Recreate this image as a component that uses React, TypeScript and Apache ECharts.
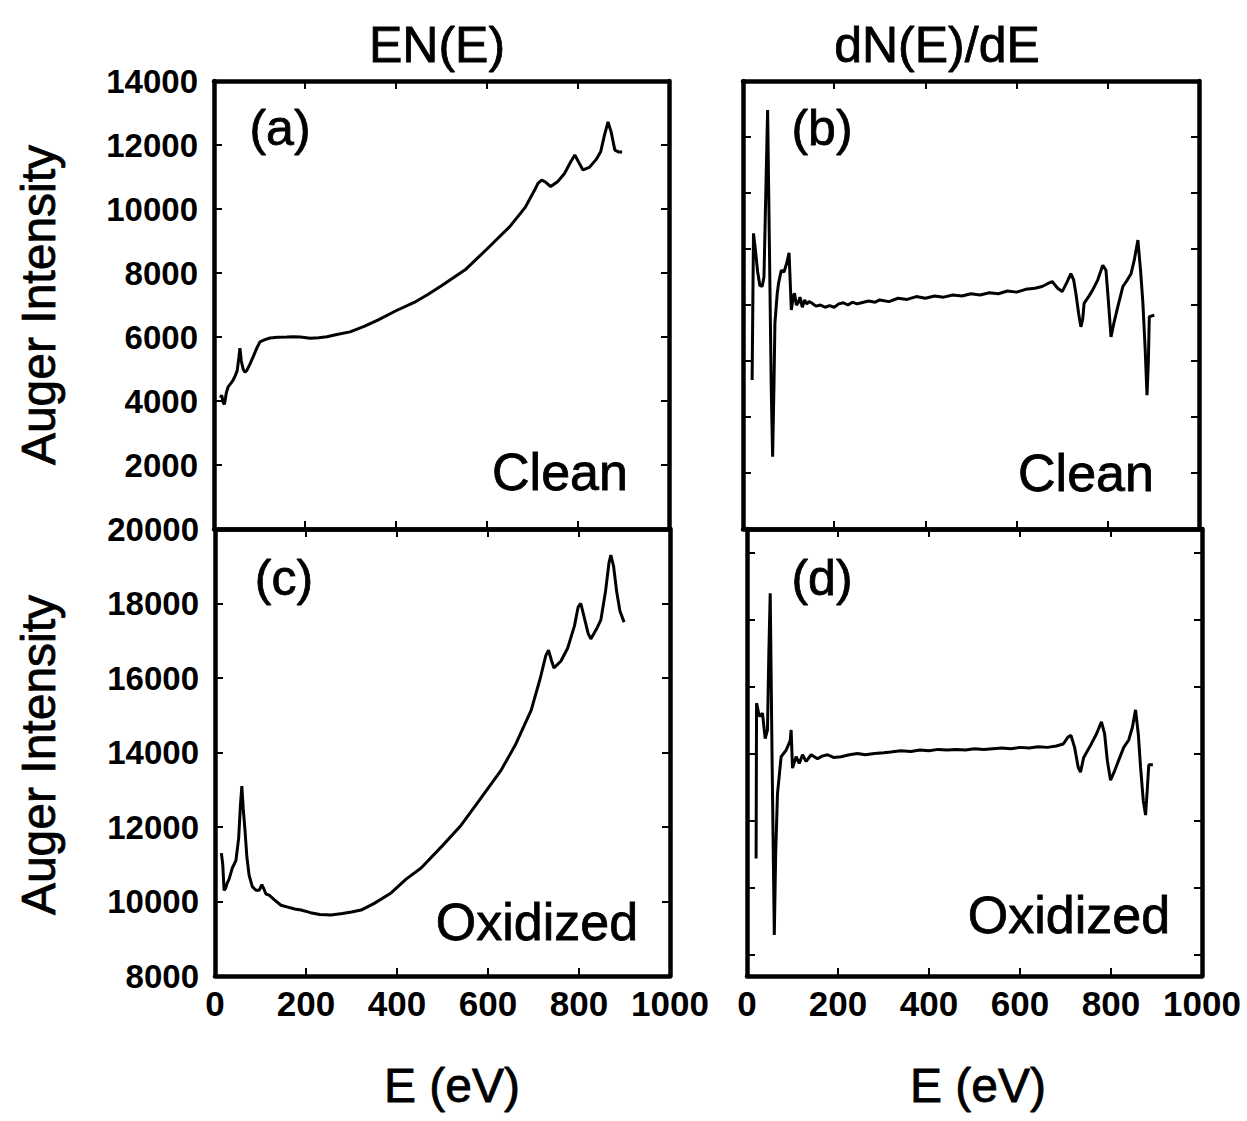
import React, { useEffect, useRef } from "react";
import * as echarts from "echarts";

// ---- Data (E in eV, intensity) ----
const xTicks = [0, 200, 400, 600, 800, 1000];

const cleanEN: [number, number][] = [
  [14, 4100], [17, 4180], [20, 3950], [23, 3900], [27, 4250], [31, 4440], [37, 4550], [42, 4650],
  [47, 4800], [51, 4950], [55, 5400], [57, 5650], [60, 5250], [64, 5000], [68, 4900], [72, 4950],
  [79, 5150], [86, 5380], [94, 5650], [101, 5850], [112, 5920], [123, 5970], [140, 5990], [160, 6000],
  [174, 6010], [190, 6000], [211, 5960], [230, 5980], [248, 6010], [270, 6080], [299, 6160], [330, 6330],
  [360, 6530], [400, 6820], [440, 7080], [470, 7330], [500, 7600], [552, 8100], [600, 8750], [650, 9450],
  [684, 10050], [705, 10600], [712, 10800], [720, 10900], [728, 10850], [740, 10700], [755, 10850], [770, 11100],
  [785, 11500], [793, 11690], [800, 11500], [811, 11220], [825, 11300], [840, 11550], [850, 11800],
  [858, 12300], [866, 12720], [873, 12400], [881, 11840], [890, 11780], [897, 11780],
];

const oxidizedEN: [number, number][] = [
  [14, 11300], [17, 11000], [20, 10300], [23, 10350], [27, 10500], [31, 10600], [38, 10900], [46, 11100],
  [52, 11700], [56, 12600], [59, 13100], [62, 12500], [66, 11900], [70, 11200], [75, 10700], [82, 10400],
  [90, 10300], [97, 10300], [103, 10450], [107, 10350], [112, 10200], [119, 10170], [130, 10050],
  [145, 9900], [160, 9850], [175, 9800], [189, 9770], [210, 9700], [230, 9650], [255, 9640], [280, 9680],
  [300, 9720], [321, 9770], [350, 9950], [387, 10230], [420, 10600], [453, 10900], [500, 11500],
  [541, 12050], [580, 12700], [629, 13530], [660, 14200], [695, 15140], [715, 16000], [727, 16600],
  [733, 16750], [740, 16450], [745, 16270], [760, 16450], [775, 16800], [790, 17400], [798, 17900],
  [804, 18000], [812, 17600], [820, 17200], [826, 17050], [840, 17350], [848, 17560], [858, 18300],
  [866, 19100], [870, 19300], [876, 19000], [883, 18300], [890, 17800], [899, 17500],
];

// derivative spectra in tick units (arbitrary)
const cleanDN: [number, number][] = [
  [20, 2.66], [23, 5.28], [27, 5.0], [32, 4.6], [37, 4.35], [42, 4.33], [46, 4.5], [50, 6.0], [54, 7.48],
  [58, 5.0], [62, 2.5], [65, 1.29], [68, 2.6], [70, 3.68], [75, 4.2], [78, 4.39], [84, 4.62], [90, 4.59],
  [96, 4.75], [101, 4.93], [106, 3.91], [110, 4.15], [113, 4.21], [117, 4.0], [121, 4.04], [125, 4.14],
  [130, 3.96], [135, 4.09], [140, 4.02], [145, 4.06], [150, 4.04], [160, 3.98], [170, 4.0], [180, 3.96],
  [190, 3.99], [200, 3.96], [210, 4.02], [220, 4.04], [230, 4.0], [240, 4.05], [250, 4.02], [260, 4.04],
  [275, 4.07], [290, 4.05], [300, 4.09], [320, 4.06], [340, 4.12], [360, 4.1], [380, 4.15], [400, 4.12],
  [420, 4.16], [440, 4.14], [460, 4.18], [480, 4.16], [500, 4.2], [520, 4.18], [540, 4.22], [560, 4.2],
  [580, 4.25], [600, 4.23], [620, 4.28], [640, 4.3], [656, 4.33], [668, 4.38], [678, 4.42], [690, 4.3],
  [700, 4.24], [710, 4.4], [719, 4.56], [725, 4.45], [730, 4.21], [736, 3.85], [741, 3.61], [745, 3.75],
  [748, 4.03], [758, 4.15], [767, 4.27], [778, 4.45], [789, 4.71], [796, 4.62], [801, 4.1], [807, 3.43],
  [814, 3.7], [822, 3.97], [833, 4.33], [843, 4.45], [851, 4.56], [858, 4.8], [866, 5.16], [872, 4.6],
  [877, 4.03], [882, 3.2], [886, 2.39], [889, 3.0], [891, 3.79], [902, 3.82],
];

const oxidizedDN: [number, number][] = [
  [20, 1.44], [21, 3.76], [27, 3.56], [34, 3.61], [40, 3.23], [45, 3.36], [48, 4.5], [51, 5.4], [55, 3.0],
  [60, 0.3], [63, 1.5], [67, 2.41], [75, 2.96], [86, 3.06], [95, 3.2], [97, 3.36], [100, 2.79], [108, 2.96],
  [115, 2.86], [122, 2.99], [130, 2.89], [141, 2.99], [155, 2.93], [165, 2.97], [177, 2.99], [190, 2.95],
  [207, 2.96], [225, 2.99], [243, 3.01], [260, 2.99], [280, 3.01], [300, 3.02], [316, 3.03], [338, 3.05],
  [360, 3.04], [380, 3.06], [400, 3.05], [420, 3.07], [440, 3.06], [460, 3.07], [480, 3.06], [500, 3.08],
  [520, 3.07], [540, 3.08], [560, 3.09], [580, 3.08], [600, 3.1], [620, 3.09], [640, 3.11], [660, 3.1],
  [680, 3.12], [695, 3.15], [705, 3.25], [712, 3.28], [720, 3.1], [728, 2.8], [733, 2.73], [740, 2.95],
  [755, 3.13], [768, 3.3], [779, 3.48], [786, 3.3], [792, 2.9], [799, 2.61], [808, 2.75], [817, 2.91],
  [828, 3.1], [839, 3.21], [847, 3.4], [854, 3.66], [860, 3.3], [865, 2.8], [871, 2.3], [876, 2.09],
  [880, 2.5], [883, 2.84], [892, 2.84],
];

const yTicksA = [0, 2000, 4000, 6000, 8000, 10000, 12000, 14000];
const yTicksC = [8000, 10000, 12000, 14000, 16000, 18000, 20000];
const dTicks = [0, 1, 2, 3, 4, 5, 6];

const FONT = "'Liberation Sans', Arial, Helvetica, sans-serif";

export default function App() {
  const ref = useRef<HTMLDivElement>(null);
  useEffect(() => {
    document.body.style.margin = "0";
    const chart = echarts.init(ref.current!, null, { renderer: "svg" });

    const grids = [
      { left: 214, top: 81, width: 455, height: 448 },
      { left: 743, top: 81, width: 456, height: 448 },
      { left: 215, top: 529, width: 455, height: 447 },
      { left: 747, top: 529, width: 455, height: 447 },
    ];

    const lineW = 4.5;
    const axisLine = { show: true, onZero: false, lineStyle: { color: "#000", width: lineW } };
    const tick = { show: true, inside: true, length: 8, lineStyle: { color: "#000", width: 2 } };
    const plain = (v: number) => String(v);

    const xAxes: any[] = [];
    const yAxes: any[] = [];
    grids.forEach((_, i) => {
      const bottomRow = i >= 2;
      xAxes.push({
        type: "value", gridIndex: i, min: xTicks[0], max: xTicks[xTicks.length - 1], interval: 200,
        position: "bottom", axisLine, axisTick: tick, splitLine: { show: false },
        axisLabel: {
          show: bottomRow, margin: 10, color: "#000", fontSize: 35, fontWeight: "bold", fontFamily: FONT,
          showMinLabel: true, showMaxLabel: true, formatter: plain,
        },
      });
      xAxes.push({
        type: "value", gridIndex: i, min: 0, max: 1000, interval: 200, position: "top",
        axisLine, axisTick: tick, splitLine: { show: false }, axisLabel: { show: false },
      });
    });

    const yLabel = { color: "#000", fontSize: 33, fontWeight: "bold", fontFamily: FONT, margin: 16 };
    // a
    yAxes.push({
      type: "value", gridIndex: 0, min: yTicksA[0], max: yTicksA[yTicksA.length - 1], interval: 2000,
      position: "left", axisLine, axisTick: tick, splitLine: { show: false },
      axisLabel: { ...yLabel, formatter: (v: number) => (v === 0 ? "" : String(v)) },
    });
    yAxes.push({
      type: "value", gridIndex: 0, min: 0, max: 14000, interval: 2000, position: "right",
      axisLine, axisTick: tick, splitLine: { show: false }, axisLabel: { show: false },
    });
    // b
    yAxes.push({
      type: "value", gridIndex: 1, min: 0, max: 8, interval: 1, position: "left",
      axisLine, axisTick: tick, splitLine: { show: false }, axisLabel: { show: false },
    });
    yAxes.push({
      type: "value", gridIndex: 1, min: 0, max: 8, interval: 1, position: "right",
      axisLine, axisTick: tick, splitLine: { show: false }, axisLabel: { show: false },
    });
    // c
    yAxes.push({
      type: "value", gridIndex: 2, min: yTicksC[0], max: yTicksC[yTicksC.length - 1], interval: 2000,
      position: "left", axisLine, axisTick: tick, splitLine: { show: false },
      axisLabel: { ...yLabel, formatter: plain },
    });
    yAxes.push({
      type: "value", gridIndex: 2, min: 8000, max: 20000, interval: 2000, position: "right",
      axisLine, axisTick: tick, splitLine: { show: false }, axisLabel: { show: false },
    });
    // d
    const dMin = -0.313;
    const dMax = 6.36;
    yAxes.push({
      type: "value", gridIndex: 3, min: dMin, max: dMax, position: "left",
      axisLine, axisTick: { ...tick, customValues: dTicks }, splitLine: { show: false },
      axisLabel: { show: false, customValues: dTicks },
    });
    yAxes.push({
      type: "value", gridIndex: 3, min: dMin, max: dMax, position: "right",
      axisLine, axisTick: { ...tick, customValues: dTicks }, splitLine: { show: false },
      axisLabel: { show: false, customValues: dTicks },
    });

    const mk = (data: [number, number][], g: number) => ({
      type: "line", data, xAxisIndex: g * 2, yAxisIndex: g * 2, symbol: "none",
      lineStyle: { color: "#000", width: 3 }, z: 3,
    });

    const txt = (text: string, x: number, y: number, size: number, rot = 0) => ({
      type: "text", x, y, rotation: rot,
      style: {
        text, fill: "#000", fontSize: size, fontFamily: FONT, align: "center", verticalAlign: "middle",
        stroke: "#000", lineWidth: 0.8,
      },
    });

    chart.setOption({
      animation: false,
      backgroundColor: "#fff",
      grid: grids.map((g) => ({ ...g, containLabel: false })),
      xAxis: xAxes,
      yAxis: yAxes,
      series: [mk(cleanEN, 0), mk(cleanDN, 1), mk(oxidizedEN, 2), mk(oxidizedDN, 3)],
      graphic: [
        txt("EN(E)", 437, 45, 50),
        txt("dN(E)/dE", 937, 45, 50),
        txt("Auger Intensity", 38, 305, 48, Math.PI / 2),
        txt("Auger Intensity", 38, 755, 48, Math.PI / 2),
        txt("E (eV)", 452, 1085, 48),
        txt("E (eV)", 978, 1085, 48),
        txt("(a)", 280, 128, 50),
        txt("(b)", 822, 128, 50),
        txt("(c)", 284, 578, 50),
        txt("(d)", 822, 578, 50),
        txt("Clean", 560, 472, 52),
        txt("Clean", 1086, 473, 52),
        txt("Oxidized", 537, 922, 52),
        txt("Oxidized", 1069, 915, 52),
      ],
    });
    return () => chart.dispose();
  }, []);
  return (
    <div
      ref={ref}
      style={{ position: "absolute", left: 0, top: 0, width: 1247, height: 1121, background: "#fff" }}
    />
  );
}
